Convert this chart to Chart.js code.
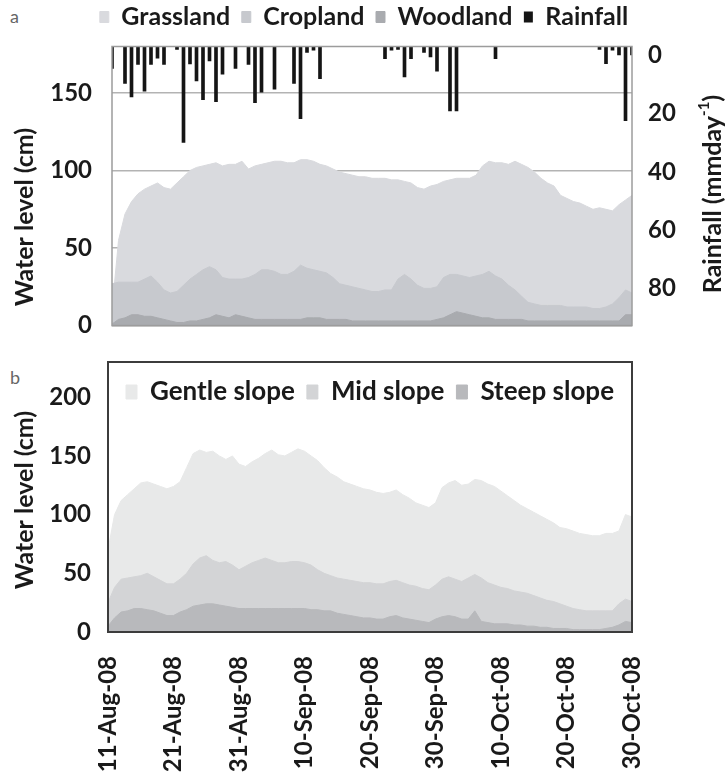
<!DOCTYPE html>
<html>
<head>
<meta charset="utf-8">
<script src="https://cdn.jsdelivr.net/npm/chart.js@4/dist/chart.umd.min.js"></script>
<style>
  body { margin: 0; background: #fff; width: 728px; height: 784px; position: relative; overflow: hidden; }
  canvas { position: absolute; left: 0; }
  #chartA { top: 0; }
  #chartB { top: 314px; }
  .tag { position: absolute; left: 10px; font: 18px Lato, sans-serif; color: #666; }
</style>
</head>
<body>
<div class="tag" style="top:5px">a</div>
<div class="tag" style="top:366px">b</div>
<canvas id="chartA" width="728" height="360"></canvas>
<canvas id="chartB" width="728" height="470"></canvas>
<script>
// Data
const months = ['Jan','Feb','Mar','Apr','May','Jun','Jul','Aug','Sep','Oct','Nov','Dec'];
const dates = [];
for (let i = 0; i < 81; i++) {
    const d = new Date(Date.UTC(2008, 7, 11 + i));
    dates.push(d.getUTCDate() + '-' + months[d.getUTCMonth()] + '-08');
}
const tickLabels = ['11-Aug-08','21-Aug-08','31-Aug-08','10-Sep-08','20-Sep-08','30-Sep-08','10-Oct-08','20-Oct-08','30-Oct-08'];

const grassland = [10, 55, 72, 80, 85, 88, 90, 92, 89, 88,
    92, 96, 100, 102, 103, 104, 105, 103, 104, 104,
    106, 101, 103, 104, 105, 106, 106, 105, 105, 107,
    107, 106, 104, 103, 101, 99, 98, 97, 96, 96,
    95, 95, 95, 94, 94, 93, 92, 89, 88, 90,
    91, 93, 94, 95, 95, 95, 97, 103, 106, 105,
    105, 104, 106, 104, 102, 99, 95, 92, 90, 84,
    82, 80, 79, 77, 75, 76, 75, 74, 78, 81,
    84];
const cropland = [27, 28, 28, 28, 28, 30, 32, 28, 23, 21,
    22, 26, 30, 33, 36, 38, 36, 31, 30, 30,
    30, 31, 33, 36, 36, 35, 33, 33, 35, 39,
    37, 36, 35, 34, 31, 27, 26, 25, 24, 23,
    22, 22, 23, 23, 30, 33, 30, 26, 24, 24,
    25, 31, 33, 33, 32, 31, 32, 33, 35, 32,
    30, 26, 23, 19, 15, 14, 13, 13, 13, 13,
    12, 12, 12, 12, 11, 11, 12, 14, 18, 23,
    21];
const woodland = [1, 4, 5, 7, 7, 6, 6, 5, 4, 3,
    2, 2, 3, 3, 4, 5, 7, 6, 5, 7,
    6, 5, 4, 4, 4, 4, 4, 4, 4, 4,
    5, 5, 5, 4, 4, 4, 4, 3, 3, 3,
    3, 3, 3, 3, 3, 3, 3, 3, 3, 3,
    4, 5, 7, 9, 8, 7, 6, 5, 5, 4,
    4, 4, 4, 4, 3, 3, 3, 3, 3, 3,
    3, 3, 3, 3, 3, 3, 3, 3, 3, 7,
    7];
const rainfall = [7.5, 0, 12.7, 17.3, 6.2, 15.4, 6.2, 4, 6.2, 0,
    1, 33, 6, 11.8, 18.3, 5, 19, 9.5, 0, 7.5,
    0, 6.2, 19.3, 15.7, 0, 14.7, 0, 0, 12.7, 24.8,
    2, 1.3, 11.1, 0, 0, 0, 0, 0, 0, 0,
    0, 0, 4.2, 1.3, 1, 10.5, 4.2, 0, 2, 3.6,
    8.5, 0, 22.2, 22.2, 0, 0, 0, 0, 0, 4.2,
    0, 0, 0, 0, 0, 0, 0, 0, 0, 0,
    0, 0, 0, 0, 0, 1, 5.9, 1.3, 2.9, 25.5,
    2.9];

const gentleSlope = [70, 100, 112, 117, 122, 127, 128, 126, 124, 122,
    124, 128, 140, 152, 155, 153, 154, 150, 147, 150,
    143, 141, 145, 148, 152, 155, 151, 150, 153, 156,
    154, 150, 146, 140, 135, 132, 128, 126, 124, 122,
    121, 119, 118, 119, 121, 117, 114, 110, 108, 106,
    110, 123, 127, 129, 125, 126, 130, 129, 126, 124,
    120, 116, 112, 108, 105, 102, 99, 96, 93, 89,
    88, 86, 84, 83, 82, 82, 84, 84, 86, 100,
    98];
const midSlope = [25, 38, 45, 46, 47, 48, 50, 47, 44, 41,
    41, 45, 50, 58, 63, 65, 61, 59, 60, 57,
    53, 56, 59, 61, 63, 61, 59, 59, 60, 60,
    59, 57, 53, 50, 48, 46, 45, 44, 43, 42,
    42, 41, 41, 43, 44, 42, 40, 39, 37, 36,
    40, 45, 47, 45, 43, 46, 49, 46, 42, 40,
    38, 37, 35, 34, 33, 31, 29, 27, 26, 24,
    22, 20, 19, 18, 18, 18, 18, 18, 24, 28,
    26];
const steepSlope = [5, 12, 17, 18, 20, 20, 19, 18, 16, 14,
    14, 17, 19, 22, 23, 24, 24, 23, 22, 21,
    20, 20, 20, 20, 20, 20, 20, 20, 20, 20,
    20, 19, 19, 18, 18, 16, 15, 14, 13, 12,
    12, 11, 11, 13, 14, 12, 11, 10, 9, 8,
    11, 13, 14, 13, 11, 11, 18, 9, 8, 7,
    7, 7, 6, 6, 5, 5, 4, 4, 3, 3,
    3, 2, 2, 2, 2, 2, 3, 4, 6, 9,
    8];

const FONT = 'Lato, "Open Sans", sans-serif';
const TEXT = '#1a1a1a';

// move the legend after layout (panel b has it inside the frame)
const legendShift = {
    id: 'legendShift',
    afterUpdate(chart, args, opts) {
        const lg = chart.legend;
        if (!lg || !opts.dy) return;
        lg.top += opts.dy;
        lg.bottom += opts.dy;
        lg.legendHitBoxes.forEach(b => { b.top += opts.dy; });
    }
};

// plot area border
const frame = {
    id: 'frame',
    afterDraw(chart, args, opts) {
        const {ctx, chartArea: a} = chart;
        ctx.save();
        ctx.strokeStyle = opts.color;
        ctx.lineWidth = opts.width;
        ctx.strokeRect(a.left, a.top, a.right - a.left, a.bottom - a.top);
        ctx.restore();
    }
};

// vertical axis titles, read bottom to top
const axisTitles = {
    id: 'axisTitles',
    afterDraw(chart, args, opts) {
        const ctx = chart.ctx;
        opts.items.forEach(it => {
            ctx.save();
            ctx.translate(it.x, it.y);
            ctx.rotate(-Math.PI / 2);
            ctx.fillStyle = TEXT;
            ctx.textBaseline = 'middle';
            const big = 'bold 25px ' + FONT, small = 'bold 15px ' + FONT;
            ctx.font = big;
            const w1 = ctx.measureText(it.text).width;
            let w2 = 0, w3 = 0;
            if (it.sup) {
                ctx.font = small; w2 = ctx.measureText(it.sup).width;
                ctx.font = big; w3 = ctx.measureText(it.tail).width;
            }
            let x = -(w1 + w2 + w3) / 2;
            ctx.textAlign = 'left';
            ctx.font = big;
            ctx.fillText(it.text, x, 0);
            if (it.sup) {
                ctx.font = small;
                ctx.fillText(it.sup, x + w1, -9);
                ctx.font = big;
                ctx.fillText(it.tail, x + w1 + w2, 0);
            }
            ctx.restore();
        });
    }
};

// Panel a
new Chart(document.getElementById('chartA'), {
    type: 'bar',
    data: {
        labels: dates,
        datasets: [
            { type: 'line', label: 'Grassland', data: grassland, order: 3, fill: 'origin',
              backgroundColor: '#d9dade', borderColor: '#d9dade', borderWidth: 1, pointRadius: 0, tension: 0 },
            { type: 'line', label: 'Cropland', data: cropland, order: 2, fill: 'origin',
              backgroundColor: '#c7c9ce', borderColor: '#c7c9ce', borderWidth: 1, pointRadius: 0, tension: 0 },
            { type: 'line', label: 'Woodland', data: woodland, order: 1, fill: 'origin',
              backgroundColor: '#a9abaf', borderColor: '#a9abaf', borderWidth: 1, pointRadius: 0, tension: 0 },
            { label: 'Rainfall', data: rainfall, order: 0, yAxisID: 'y2',
              backgroundColor: '#151515', barThickness: 3 }
        ]
    },
    options: {
        responsive: false,
        animation: false,
        events: [],
        layout: { padding: { bottom: 18 } },
        scales: {
            x: { display: false, offset: false },
            y: {
                position: 'left', min: 0, max: 180,
                afterBuildTicks: s => { s.ticks = [0, 50, 100, 150].map(v => ({ value: v })); },
                afterFit: s => { s.width = 112; },
                grid: { color: '#b3b3b3', lineWidth: 1.5, drawTicks: false },
                border: { display: false },
                ticks: { padding: 20, color: TEXT, font: { family: FONT, size: 24, weight: 'bold' } }
            },
            y2: {
                position: 'right', reverse: true, min: 0, max: 96,
                afterBuildTicks: s => { s.ticks = [0, 20, 40, 60, 80].map(v => ({ value: v })); },
                afterFit: s => { s.width = 96; },
                grid: { display: false, drawTicks: false },
                border: { display: false },
                ticks: { padding: 16, labelOffset: 9, color: TEXT, font: { family: FONT, size: 24, weight: 'bold' } }
            }
        },
        plugins: {
            tooltip: { enabled: false },
            legend: {
                position: 'top', fullSize: true,
                labels: {
                    sort: (a, b) => a.datasetIndex - b.datasetIndex,
                    boxWidth: 9, boxHeight: 11, padding: 11.5, color: TEXT,
                    font: { family: FONT, size: 25, weight: 'bold' }
                }
            },
            legendShift: { dy: -7 },
            frame: { color: '#9c9c9c', width: 1.5 },
            axisTitles: { items: [
                { text: 'Water level (cm)', x: 25, y: 217 },
                { text: 'Rainfall (mmday', sup: '-1', tail: ')', x: 713, y: 194 }
            ] }
        }
    },
    plugins: [legendShift, frame, axisTitles]
});

// Panel b
new Chart(document.getElementById('chartB'), {
    type: 'line',
    data: {
        labels: dates,
        datasets: [
            { label: 'Gentle slope', data: gentleSlope, order: 3, fill: 'origin',
              backgroundColor: '#e8e9e9', borderColor: '#e8e9e9', borderWidth: 1, pointRadius: 0, tension: 0 },
            { label: 'Mid slope', data: midSlope, order: 2, fill: 'origin',
              backgroundColor: '#d3d4d6', borderColor: '#d3d4d6', borderWidth: 1, pointRadius: 0, tension: 0 },
            { label: 'Steep slope', data: steepSlope, order: 1, fill: 'origin',
              backgroundColor: '#b8b9bc', borderColor: '#b8b9bc', borderWidth: 1, pointRadius: 0, tension: 0 }
        ]
    },
    options: {
        responsive: false,
        animation: false,
        events: [],
        layout: { padding: { right: 96 } },
        scales: {
            x: {
                offset: false,
                afterFit: s => { s.height = 152; },
                grid: { display: false, drawTicks: false },
                border: { display: false },
                ticks: {
                    autoSkip: false, minRotation: 90, maxRotation: 90, padding: 24,
                    color: TEXT, font: { family: FONT, size: 24, weight: 'bold' },
                    callback: function (v) {
                        const l = this.getLabelForValue(v);
                        return tickLabels.includes(l) ? l : null;
                    }
                }
            },
            y: {
                min: 0, max: 230,
                afterBuildTicks: s => { s.ticks = [0, 50, 100, 150, 200].map(v => ({ value: v })); },
                afterFit: s => { s.width = 108; },
                grid: { display: false, drawTicks: false },
                border: { display: false },
                ticks: { padding: 17, color: TEXT, font: { family: FONT, size: 24, weight: 'bold' } }
            }
        },
        plugins: {
            tooltip: { enabled: false },
            legend: {
                position: 'top', fullSize: false,
                labels: {
                    sort: (a, b) => a.datasetIndex - b.datasetIndex,
                    boxWidth: 11, boxHeight: 14, padding: 12, color: TEXT,
                    font: { family: FONT, size: 26, weight: 'bold' }
                }
            },
            legendShift: { dy: 53 },
            frame: { color: '#3c3c3c', width: 2 },
            axisTitles: { items: [
                { text: 'Water level (cm)', x: 25, y: 186 }
            ] }
        }
    },
    plugins: [legendShift, frame, axisTitles]
});
</script>
</body>
</html>
